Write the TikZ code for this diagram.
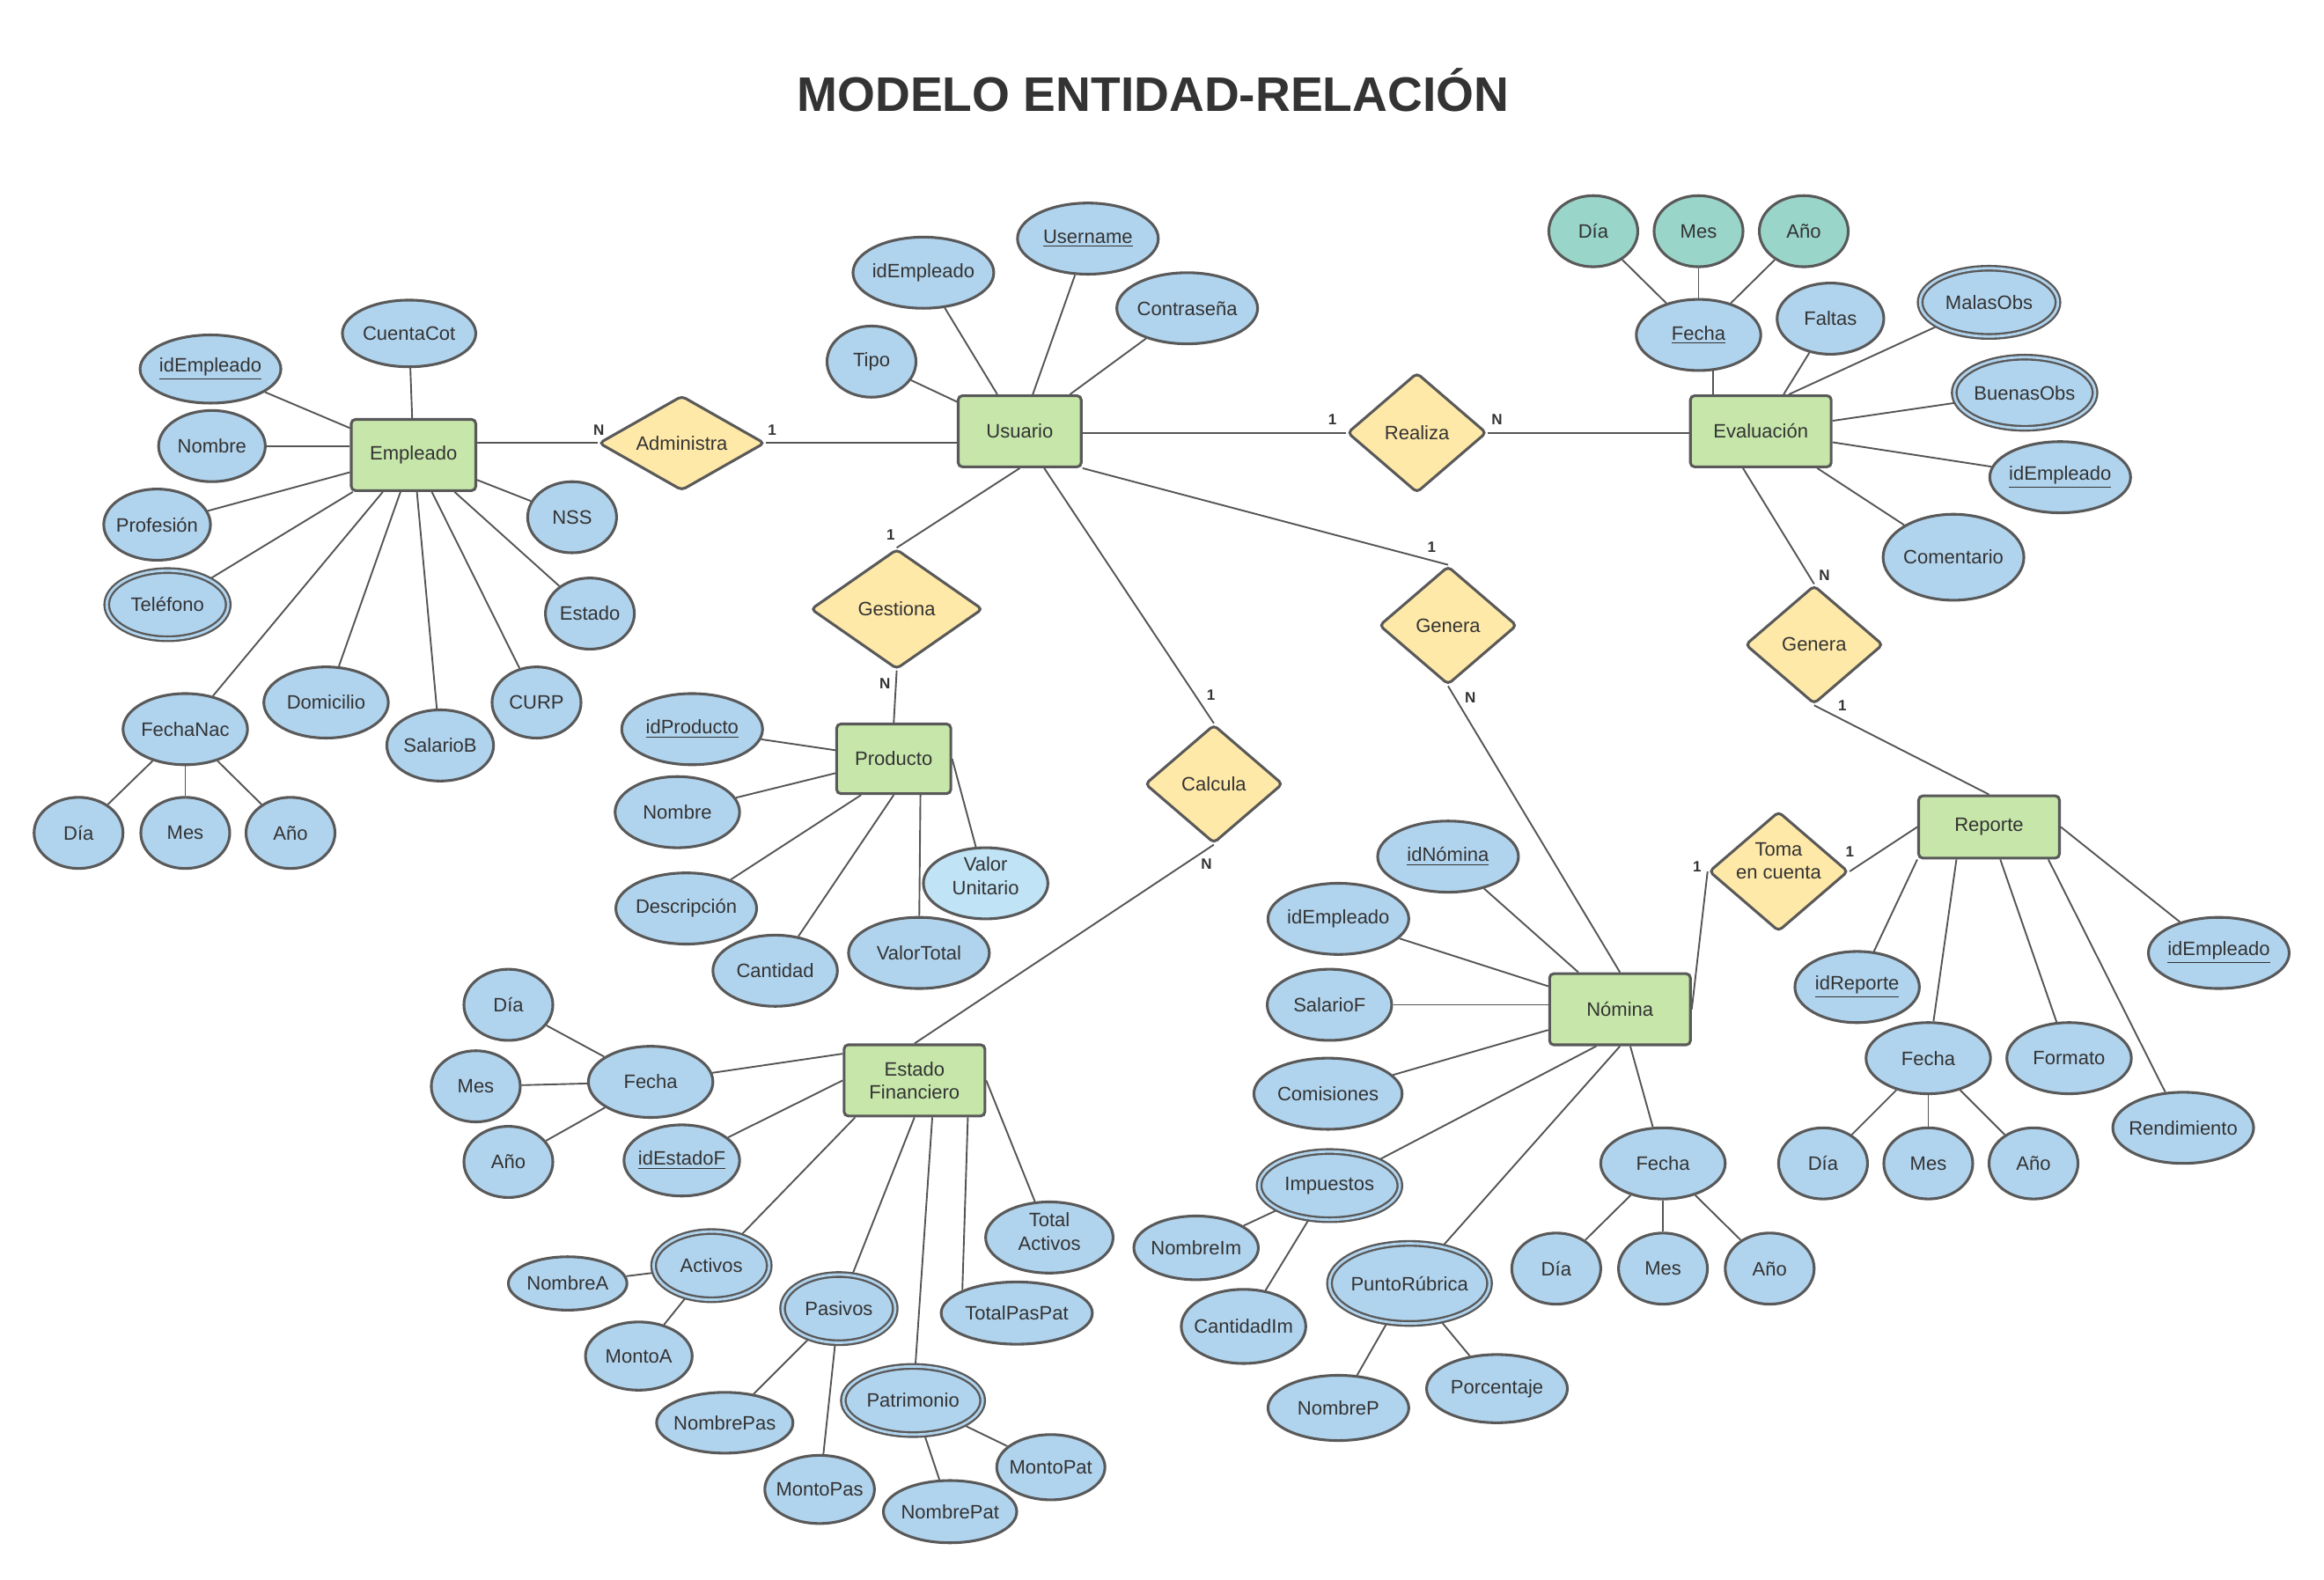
\documentclass[tikz,border=0pt]{standalone}
\usepackage{fontspec}
\setmainfont{Liberation Sans}
\usetikzlibrary{shapes.geometric,calc}
\definecolor{attrc}{HTML}{B1D4EE}
\definecolor{attrl}{HTML}{C0E3F6}
\definecolor{entc}{HTML}{C6E6AA}
\definecolor{relc}{HTML}{FFE9A8}
\definecolor{tealc}{HTML}{9AD5CA}
\definecolor{bordc}{HTML}{595959}
\definecolor{linec}{HTML}{555555}
\definecolor{txtc}{HTML}{333333}
\newcommand{\ndfont}{\fontsize{9.3}{11.2}\selectfont}
\newcommand{\crdfont}{\fontsize{7.2}{8}\selectfont\bfseries}
\newcommand{\ttlfont}{\fontsize{23.3}{26}\selectfont\bfseries}
\newcommand{\zb}[1]{\makebox[0pt]{#1}}
\pgfdeclarelayer{bg}
\pgfsetlayers{bg,main}
\begin{document}
\begin{tikzpicture}[x=0.25mm,y=-0.25mm,
  nbase/.style={draw=bordc, text=txtc, font=\ndfont, line width=1.3pt, inner sep=0pt},
  attr/.style 2 args={nbase, ellipse, fill=attrc, minimum width=#1*0.25mm, minimum height=#2*0.25mm},
  mattr/.style 2 args={attr={#1}{#2}, line width=1pt, double=attrc, double distance=1.2pt},
  tattr/.style 2 args={attr={#1}{#2}, fill=tealc},
  ent/.style 2 args={nbase, rectangle, rounded corners=2pt, fill=entc, minimum width=#1*0.25mm, minimum height=#2*0.25mm},
  rel/.style 2 args={nbase, diamond, aspect=1.2, rounded corners=2pt, fill=relc, minimum width=#1*0.25mm, minimum height=#2*0.25mm},
  txt/.style={text=txtc, font=\ndfont, inner sep=0pt, align=center},
  card/.style={font=\crdfont, text=txtc, inner sep=0pt},
  conn/.style={draw=linec, line width=0.8pt}
]
\path[use as bounding box] (0,0) rectangle (1568,1066);
\node[text=txtc, font=\ttlfont] (title) at (778,61) {MODELO ENTIDAD-RELACIÓN};

% entities
\node[ent={84}{48}] (emp) at (279,307) {Empleado};
\node[ent={83}{48}] (usu) at (688,291) {Usuario};
\node[ent={95}{48}] (eva) at (1188,291) {Evaluación};
\node[ent={77}{47}] (pro) at (603,512) {Producto};
\node[ent={95}{48}, align=center] (ef) at (617,729) {Estado\\Financiero};
\node[ent={95}{48}] (nom) at (1093,681) {Nómina};
\node[ent={95}{42}] (rep) at (1342,558) {Reporte};

% relations
\node[rel={112}{64}, aspect=1.75] (adm) at (460,299) {Administra};
\node[rel={94}{81}] (rea) at (956,292) {Realiza};
\node[rel={116}{81}] (ges) at (605,411) {Gestiona};
\node[rel={93}{80}] (gen1) at (977,422) {Genera};
\node[rel={93}{80}] (cal) at (819,529) {Calcula};
\node[rel={93}{80}] (gen2) at (1224,435) {Genera};
\node[rel={94}{81}] (tom) at (1200,588) {};
\node[txt] (tomt) at (1200,581) {Toma\\en cuenta};

% Empleado attributes
\node[attr={90}{45}] (ecc) at (276,225) {\zb{CuentaCot}};
\node[attr={95}{46}] (eid) at (142,249) {\zb{\underline{idEmpleado}}};
\node[attr={72}{48}] (enom) at (143,301) {\zb{Nombre}};
\node[attr={72}{48}] (eprof) at (106,354) {\zb{Profesión}};
\node[mattr={82}{46}] (etel) at (113,408) {\zb{Teléfono}};
\node[attr={60}{48}] (enss) at (386,349) {\zb{NSS}};
\node[attr={60}{48}] (eest) at (398,414) {\zb{Estado}};
\node[attr={84}{48}] (efn) at (125,492) {\zb{FechaNac}};
\node[attr={84}{48}] (edom) at (220,474) {\zb{Domicilio}};
\node[attr={72}{48}] (esal) at (297,503) {\zb{SalarioB}};
\node[attr={60}{48}] (ecurp) at (362,474) {\zb{CURP}};
\node[attr={60}{48}] (edia) at (53,562) {\zb{Día}};
\node[attr={60}{48}] (emes) at (125,562) {\zb{Mes}};
\node[attr={60}{48}] (eanio) at (196,562) {\zb{Año}};

% Usuario attributes
\node[attr={60}{48}] (utipo) at (588,244) {\zb{Tipo}};
\node[attr={95}{48}] (uid) at (623,184) {\zb{idEmpleado}};
\node[attr={95}{48}] (uuser) at (734,161) {\zb{\underline{Username}}};
\node[attr={95}{48}] (upass) at (801,208) {\zb{Contraseña}};

% Evaluacion attributes
\node[tattr={60}{48}] (vdia) at (1075,156) {\zb{Día}};
\node[tattr={60}{48}] (vmes) at (1146,156) {\zb{Mes}};
\node[tattr={60}{48}] (vanio) at (1217,156) {\zb{Año}};
\node[attr={84}{48}] (vfec) at (1146,226) {\zb{\underline{Fecha}}};
\node[attr={72}{48}] (vfal) at (1235,215) {\zb{Faltas}};
\node[mattr={93}{46}] (vmal) at (1342,204) {\zb{MalasObs}};
\node[mattr={95}{48}] (vbue) at (1366,265) {\zb{BuenasObs}};
\node[attr={95}{48}] (vid) at (1390,322) {\zb{\underline{idEmpleado}}};
\node[attr={95}{58}] (vcom) at (1318,376) {\zb{Comentario}};

% Producto attributes
\node[attr={95}{48}] (pid) at (467,492) {\zb{\underline{idProducto}}};
\node[attr={84}{48}] (pnom) at (457,548) {\zb{Nombre}};
\node[attr={95}{48}] (pdes) at (463,613) {\zb{Descripción}};
\node[attr={84}{48}] (pcan) at (523,655) {\zb{Cantidad}};
\node[attr={95}{48}] (pvt) at (620,643) {\zb{ValorTotal}};
\node[attr={84}{48}, fill=attrl] (pvu) at (665,596) {};
\node[txt] (pvut) at (665,591) {Valor\\Unitario};

% Estado Financiero attributes
\node[attr={60}{48}] (fdia) at (343,678) {\zb{Día}};
\node[attr={60}{48}] (fmes) at (321,733) {\zb{Mes}};
\node[attr={60}{48}] (fanio) at (343,784) {\zb{Año}};
\node[attr={84}{48}] (ffec) at (439,730) {\zb{Fecha}};
\node[attr={78}{48}] (fid) at (460,783) {\zb{\underline{idEstadoF}}};
\node[mattr={78}{46}] (fact) at (480,854) {\zb{Activos}};
\node[attr={80}{36}] (fnoma) at (383,866) {\zb{NombreA}};
\node[attr={72}{46}] (fmona) at (431,915) {\zb{MontoA}};
\node[mattr={76}{46}] (fpas) at (566,883) {\zb{Pasivos}};
\node[attr={92}{41}] (fnompas) at (489,960) {\zb{NombrePas}};
\node[attr={74}{46}] (fmonpas) at (553,1005) {\zb{MontoPas}};
\node[mattr={94}{46}] (fpat) at (616,945) {\zb{Patrimonio}};
\node[attr={90}{42}] (fnompat) at (641,1020) {\zb{NombrePat}};
\node[attr={73}{44}] (fmonpat) at (709,990) {\zb{MontoPat}};
\node[attr={86}{48}] (fta) at (708,835) {};
\node[txt] (ftat) at (708,831) {Total\\Activos};
\node[attr={102}{42}] (ftpp) at (686,886) {\zb{TotalPasPat}};

% Nomina attributes
\node[attr={95}{48}] (nid) at (977,578) {\zb{\underline{idNómina}}};
\node[attr={95}{48}] (nemp) at (903,620) {\zb{idEmpleado}};
\node[attr={84}{48}] (nsal) at (897,678) {\zb{SalarioF}};
\node[attr={100}{48}] (ncom) at (896,738) {\zb{Comisiones}};
\node[mattr={95}{46}] (nimp) at (897,800) {\zb{Impuestos}};
\node[attr={84}{43}] (nnomi) at (807,842) {\zb{NombreIm}};
\node[attr={84}{50}] (ncani) at (839,895) {\zb{CantidadIm}};
\node[mattr={108}{54}] (npr) at (951,866) {\zb{PuntoRúbrica}};
\node[attr={95}{44}] (nnomp) at (903,950) {\zb{NombreP}};
\node[attr={95}{46}] (npor) at (1010,937) {\zb{Porcentaje}};
\node[attr={84}{48}] (nfec) at (1122,785) {\zb{Fecha}};
\node[attr={60}{48}] (ndia) at (1050,856) {\zb{Día}};
\node[attr={60}{48}] (nmes) at (1122,856) {\zb{Mes}};
\node[attr={60}{48}] (nanio) at (1194,856) {\zb{Año}};

% Reporte attributes
\node[attr={84}{48}] (rid) at (1253,666) {\zb{\underline{idReporte}}};
\node[attr={95}{48}] (remp) at (1497,643) {\zb{\underline{idEmpleado}}};
\node[attr={84}{48}] (rfec) at (1301,714) {\zb{Fecha}};
\node[attr={84}{48}] (rfor) at (1396,714) {\zb{Formato}};
\node[attr={95}{48}] (rren) at (1473,761) {\zb{Rendimiento}};
\node[attr={60}{48}] (rdia) at (1230,785) {\zb{Día}};
\node[attr={60}{48}] (rmes) at (1301,785) {\zb{Mes}};
\node[attr={60}{48}] (ranio) at (1372,785) {\zb{Año}};

% cardinalities
\node[card] (cadm1) at (404,290) {N};
\node[card] (cadm2) at (521,290) {1};
\node[card] (crea1) at (899,283) {1};
\node[card] (crea2) at (1010,283) {N};
\node[card] (cges1) at (601,361) {1};
\node[card] (cges2) at (597,461) {N};
\node[card] (cgena) at (966,369) {1};
\node[card] (cgenb) at (992,471) {N};
\node[card] (ccal1) at (817,469) {1};
\node[card] (ccal2) at (814,583) {N};
\node[card] (cgenc) at (1231,388) {N};
\node[card] (cgend) at (1243,476) {1};
\node[card] (ctom1) at (1145,585) {1};
\node[card] (ctom2) at (1248,575) {1};

\begin{pgfonlayer}{bg}
% relationship connectors
\draw[conn] (emp.east |- adm.west) -- (adm.west);
\draw[conn] (adm.east) -- (adm.east -| usu.west);
\draw[conn] (usu.east |- rea.west) -- (rea.west);
\draw[conn] (rea.east) -- (rea.east -| eva.west);
\draw[conn] (usu.south) -- (ges.north);
\draw[conn] (ges.south) -- (pro.north);
\draw[conn] (usu) -- (cal.north);
\draw[conn] (cal.south) -- (ef.north);
\draw[conn] (usu.south east) -- (gen1.north);
\draw[conn] (gen1.south) -- (nom.north);
\draw[conn] ($(eva.south)+(-12,0)$) -- (gen2.north);
\draw[conn] (gen2.south) -- (rep.north);
\draw[conn] (nom.east) -- (tom.west);
\draw[conn] (tom.east) -- (rep.west);
% Empleado
\foreach \a in {eid,eprof,etel,efn,edom,esal,ecurp,eest,enss,ecc} \draw[conn] (emp) -- (\a);
\draw[conn] (enom.east) -- (enom.east -| emp.west);
\foreach \a in {edia,emes,eanio} \draw[conn] (efn) -- (\a);
% Usuario
\foreach \a in {utipo,uid,uuser,upass} \draw[conn] (usu) -- (\a);
% Evaluacion
\draw[conn] ($(vfec.south)+(10,-2)$) -- ($(vfec.south |- eva.north)+(10,0)$);
\foreach \a in {vfal,vbue,vid,vcom} \draw[conn] (eva) -- (\a);
\draw[conn] ($(eva.north)+(19,0)$) -- (vmal);
\foreach \a in {vdia,vmes,vanio} \draw[conn] (vfec) -- (\a);
% Producto
\foreach \a in {pid,pnom} \draw[conn] (pro) -- (\a);
\draw[conn] ($(pro.south)+(-22,0)$) -- (pdes);
\draw[conn] (pro.south) -- (pcan);
\draw[conn] ($(pro.south)+(18,0)$) -- (pvt);
\draw[conn] (pro.east) -- (pvu);
% Estado Financiero
\draw[conn] ($(ef.west)+(0,-18)$) -- (ffec);
\draw[conn] (ef.west) -- (fid);
\draw[conn] ($(ef.south)+(-40,0)$) -- (fact);
\draw[conn] (ef.south) -- (fpas);
\draw[conn] ($(ef.south)+(12,0)$) -- (fpat);
\draw[conn] ($(ef.south)+(36,0)$) -- (ftpp.north west);
\draw[conn] (ef.east) -- (fta);
\foreach \a in {fdia,fmes,fanio} \draw[conn] (ffec) -- (\a);
\draw[conn] (fact) -- (fnoma);
\draw[conn] (fact) -- (fmona);
\draw[conn] (fpas) -- (fnompas);
\draw[conn] (fpas) -- (fmonpas);
\draw[conn] (fpat) -- (fnompat);
\draw[conn] (fpat) -- (fmonpat);
% Nomina
\foreach \a in {nid,nemp,ncom,nfec} \draw[conn] (nom) -- (\a);
\draw[conn] (nsal.east) -- (nsal.east -| nom.west);
\draw[conn] ($(nom.south)+(-16,0)$) -- (nimp);
\draw[conn] (nom.south) -- (npr);
\draw[conn] (nimp) -- (nnomi);
\draw[conn] (nimp) -- (ncani);
\draw[conn] (npr) -- (nnomp);
\draw[conn] (npr) -- (npor);
\foreach \a in {ndia,nmes,nanio} \draw[conn] (nfec) -- (\a);
% Reporte
\draw[conn] (rep.south west) -- (rid);
\draw[conn] ($(rep.south)+(-22,0)$) -- (rfec);
\draw[conn] (rep) -- (rfor);
\draw[conn] ($(rep.south)+(40,0)$) -- (rren);
\draw[conn] (rep.east) -- (remp);
\foreach \a in {rdia,rmes,ranio} \draw[conn] (rfec) -- (\a);
\end{pgfonlayer}
\end{tikzpicture}
\end{document}
